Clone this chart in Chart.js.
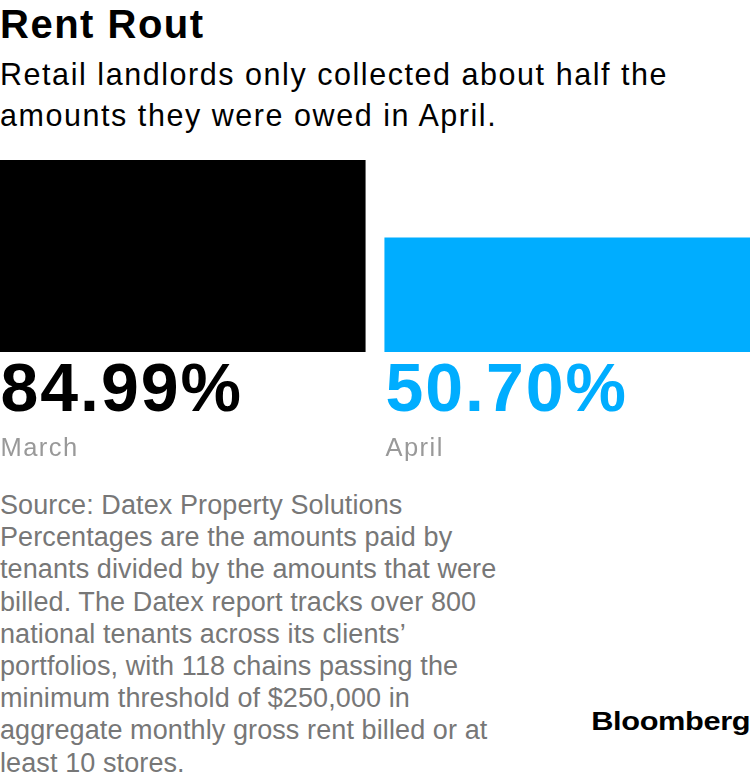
<!DOCTYPE html>
<html lang="en">
<head>
    <meta charset="UTF-8">
    <title>Rent Rout</title>
    <style>
        body {
            margin: 0;
            width: 750px;
            height: 778px;
            background: #fff;
            position: relative;
            overflow: hidden;
            font-family: 'Liberation Sans', Arial, sans-serif;
        }

        h1 {
            position: absolute;
            left: 0;
            top: 1px;
            margin: 0;
            font-size: 40px;
            line-height: 46px;
            font-weight: bold;
            color: #000;
            letter-spacing: 1.5px;
        }

        .subtitle {
            position: absolute;
            left: 0;
            top: 54px;
            margin: 0;
            font-size: 30.5px;
            line-height: 41px;
            color: #000;
            letter-spacing: 1.55px;
            white-space: nowrap;
        }

        #chart {
            position: absolute;
            left: -10px;
            top: 160px;
        }

        .notes {
            position: absolute;
            left: 0;
            top: 489px;
            margin: 0;
            font-size: 27px;
            line-height: 32.2px;
            color: #777;
            letter-spacing: 0.1px;
            white-space: nowrap;
        }

        .logo {
            position: absolute;
            right: 0;
            top: 707px;
            font-size: 25px;
            line-height: 29px;
            font-weight: bold;
            letter-spacing: -0.3px;
            color: #000;
            transform: scaleX(1.23);
            transform-origin: right center;
        }
    </style>
</head>
<body>
    <h1>Rent Rout</h1>
    <p class="subtitle">Retail landlords only collected about half the<br>amounts they were owed in April.</p>

    <canvas id="chart" width="770" height="310"></canvas>

    <p class="notes">Source: Datex Property Solutions<br>Percentages are the amounts paid by<br>tenants divided by the amounts that were<br>billed. The Datex report tracks over 800<br>national tenants across its clients’<br>portfolios, with 118 chains passing the<br>minimum threshold of $250,000 in<br>aggregate monthly gross rent billed or at<br>least 10 stores.</p>
    <div class="logo">Bloomberg</div>

    <script src="https://cdn.jsdelivr.net/npm/chart.js"></script>
    <script>
        // Data
        const months = ['March', 'April'];
        const collected = [84.99, 50.70];
        const valueLabels = ['84.99%', '50.70%'];
        const barColors = ['#000000', '#00adff'];

        // Big value + month name under each bar
        const labelPlugin = {
            id: 'barLabels',
            afterDatasetsDraw(chart) {
                const ctx = chart.ctx;
                const meta = chart.getDatasetMeta(0);
                ctx.save();
                ctx.textAlign = 'left';
                ctx.textBaseline = 'alphabetic';
                meta.data.forEach((bar, i) => {
                    const left = bar.x - bar.width / 2 + 1;
                    ctx.fillStyle = barColors[i];
                    ctx.font = 'bold 68px "Liberation Sans", Arial, sans-serif';
                    ctx.letterSpacing = '2px';
                    ctx.fillText(valueLabels[i], left, bar.base + 59);
                    ctx.fillStyle = '#999999';
                    ctx.font = '25.5px "Liberation Sans", Arial, sans-serif';
                    ctx.letterSpacing = '1.5px';
                    ctx.fillText(months[i], left, bar.base + 104);
                });
                ctx.restore();
            }
        };

        new Chart(document.getElementById('chart'), {
            type: 'bar',
            data: {
                labels: months,
                datasets: [{
                    data: collected,
                    backgroundColor: barColors,
                    borderWidth: 0,
                    barPercentage: 0.951,
                    categoryPercentage: 1
                }]
            },
            options: {
                responsive: false,
                animation: false,
                devicePixelRatio: 1,
                layout: { padding: { top: 0, bottom: 118, left: 0, right: 0 } },
                scales: {
                    x: { display: false },
                    y: { display: false, min: 0, max: 84.99 }
                },
                plugins: {
                    legend: { display: false },
                    tooltip: { enabled: false }
                }
            },
            plugins: [labelPlugin]
        });
    </script>
</body>
</html>
